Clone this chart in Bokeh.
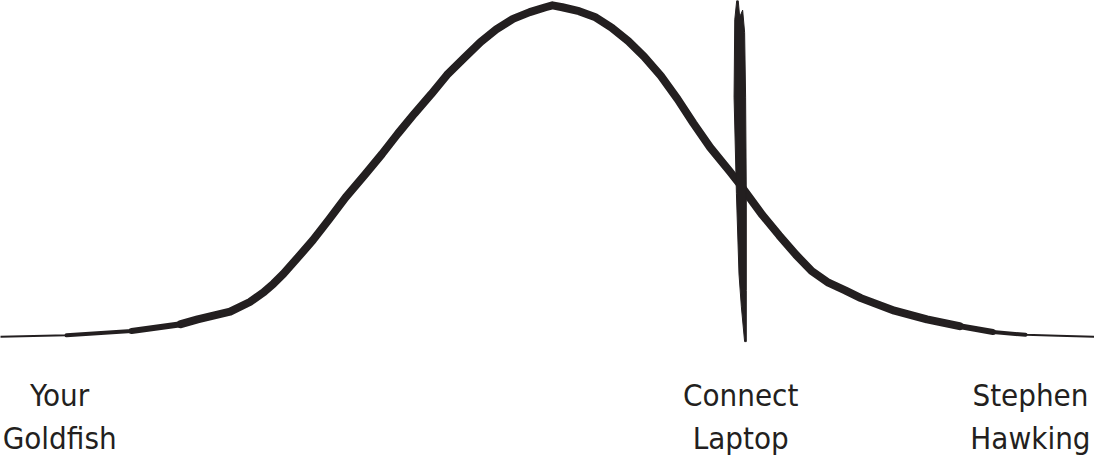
from bokeh.plotting import figure
from bokeh.models import Range1d
from bokeh.core.properties import value
from bokeh.embed import file_html
from bokeh.resources import INLINE

# bell curve: x position and height above the baseline
curve_x = [0, 67, 133, 183, 200, 233, 253, 267, 277, 287, 300, 317, 333, 350, 370,
           387, 403, 420, 437, 453, 470, 487, 503, 520, 537, 553, 560, 570, 587,
           603, 620, 637, 653, 670, 687, 703, 720, 740, 750, 773, 790, 807, 823,
           840, 857, 873, 907, 940, 973, 1007, 1040, 1073, 1110]
curve_h = [0, 1.5, 6, 13, 18, 26, 36, 46, 55, 65, 80, 100, 121, 144, 168,
           189, 210, 231, 251, 271, 288, 305, 318, 329, 336, 341, 343, 341, 337,
           331, 320, 306, 290, 270, 246, 221, 196, 171, 158, 126, 105, 85, 68,
           56, 48, 40, 27, 18, 11, 5, 2, 1, 0]

# the hand drawn vertical marker (outline of the stroke)
marker_x = [747, 745, 744.3, 746.7, 749.3, 751.7, 755, 756.7, 756.7, 756.7, 756,
            755, 753, 750, 748.5]
marker_h = [348, 328, 248, 148, 65, 31, -5, -5, 48, 148, 248,
            315, 338, 331, 348]

# labels under the curve
label_x = [60, 751, 1045]
label_top = ["Your", "Connect", "Stephen"]
label_bottom = ["Goldfish", "Laptop", "Hawking"]
label_top_h = [-60, -60, -60]
label_bottom_h = [-105, -105, -105]

ink = "#231f20"
font = value("DejaVu Sans Condensed")

p = figure(
    width=1094,
    height=459,
    x_range=Range1d(0, 1110),
    y_range=Range1d(-127, 348),
    toolbar_location=None,
    output_backend="svg",
    min_border=0,
)
p.axis.visible = False
p.grid.visible = False
p.outline_line_color = None
p.background_fill_color = "white"

# curve, drawn in layers so it gets thinner towards both ends
p.line(curve_x, curve_h, line_width=2, color=ink, line_cap="round", line_join="round")
p.line(curve_x[1:-2], curve_h[1:-2], line_width=4, color=ink, line_cap="round", line_join="round")
p.line(curve_x[2:-3], curve_h[2:-3], line_width=6, color=ink, line_cap="round", line_join="round")
p.line(curve_x[3:-4], curve_h[3:-4], line_width=8, color=ink, line_cap="round", line_join="round")

p.patch(marker_x, marker_h, fill_color=ink, line_color=ink, line_width=1)

p.text(label_x, label_top_h, text=label_top, text_align="center", text_baseline="alphabetic",
       text_font=font, text_font_size="31px", text_color=ink)
p.text(label_x, label_bottom_h, text=label_bottom, text_align="center", text_baseline="alphabetic",
       text_font=font, text_font_size="31px", text_color=ink)

open("out.html", "w").write(file_html(p, INLINE))
